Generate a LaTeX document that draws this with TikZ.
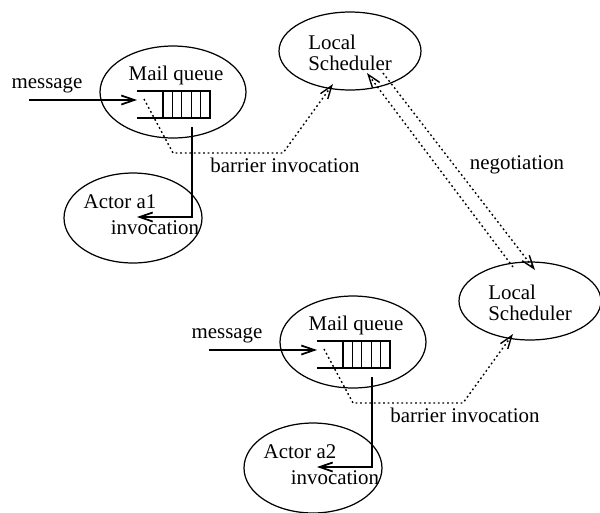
\documentclass[tikz,border=0pt]{standalone}
\usepackage{fontspec}
\setmainfont{Liberation Serif}
\usetikzlibrary{arrows.meta,shapes.geometric}

\begin{document}
\begin{tikzpicture}[
  x=0.02cm, y=-0.02cm,
  every node/.style={font=\fontsize{11.9}{12}\selectfont, inner sep=0pt},
  mailoval/.style={ellipse, draw, line width=0.7pt, minimum width=2.92cm, minimum height=1.84cm},
  actoroval/.style={ellipse, draw, line width=0.7pt, minimum width=2.76cm, minimum height=1.8cm},
  schedoval/.style={ellipse, draw, line width=0.7pt, minimum width=2.84cm, minimum height=1.56cm},
  tip/.style={-{Straight Barb[length=2.6mm, width=1.8mm]}},
  flow/.style={tip, line width=1pt},
  barrier/.style={tip, line width=0.8pt, dash pattern=on 1pt off 1.6pt},
  slot/.style={line width=0.7pt},
]
\useasboundingbox (0,0) rectangle (600,512);

% ================================================================
% Upper actor: mail queue, actor a1, local scheduler
% ================================================================
\begin{scope}
  \node[mailoval]  (mq1)    at (173,92)  {};
  \node[actoroval] (actor1) at (133,218) {};
  \node[schedoval] (sched1) at (350,51)  {};

  % --- Queue slots ---
  \draw[slot] (137,91) -- (210,91) -- (210,118) -- (137,118);
  \foreach \x in {163,172.4,181.8,191.2,200.6}
    \draw[slot] (\x,91) -- (\x,118);

  % --- Anchor points ---
  \coordinate (src1)    at (29,100);
  \coordinate (in1)     at (137,100);
  \coordinate (deq1)    at (192,127);
  \coordinate (call1)   at (137,217);
  \coordinate (bar1)    at (144,99);
  \coordinate (bartip1) at (333,84);

  % --- Connectors ---
  \draw[flow] (src1) -- (in1);
  \draw[flow] (deq1) |- (call1);
  \draw[barrier] (bar1) -- ++(29,54) -- ++(110,0) -- (bartip1);

  % --- Labels ---
  \node (msg1)    at (47,85)   {message};
  \node (mqtxt1)  at (176,75)  {Mail queue};
  \node (acttxt1) at (120,202) {Actor a1};
  \node (inv1)    at (155,228) {invocation};
  \node (bartxt1) at (285,165) {barrier invocation};
  \node[anchor=west, align=left] (schtxt1) at (308,53) {Local\\Scheduler};
\end{scope}

% ================================================================
% Lower actor: mail queue, actor a2, local scheduler
% ================================================================
\begin{scope}[shift={(180,250)}]
  \node[mailoval]  (mq2)    at (173,92)  {};
  \node[actoroval] (actor2) at (133,218) {};
  \node[schedoval] (sched2) at (350,51)  {};

  % --- Queue slots ---
  \draw[slot] (137,91) -- (210,91) -- (210,118) -- (137,118);
  \foreach \x in {163,172.4,181.8,191.2,200.6}
    \draw[slot] (\x,91) -- (\x,118);

  % --- Anchor points ---
  \coordinate (src2)    at (29,100);
  \coordinate (in2)     at (137,100);
  \coordinate (deq2)    at (192,127);
  \coordinate (call2)   at (137,217);
  \coordinate (bar2)    at (144,99);
  \coordinate (bartip2) at (333,84);

  % --- Connectors ---
  \draw[flow] (src2) -- (in2);
  \draw[flow] (deq2) |- (call2);
  \draw[barrier] (bar2) -- ++(29,54) -- ++(110,0) -- (bartip2);

  % --- Labels ---
  \node (msg2)    at (47,85)   {message};
  \node (mqtxt2)  at (176,75)  {Mail queue};
  \node (acttxt2) at (120,202) {Actor a2};
  \node (inv2)    at (155,228) {invocation};
  \node (bartxt2) at (285,165) {barrier invocation};
  \node[anchor=west, align=left] (schtxt2) at (308,53) {Local\\Scheduler};
\end{scope}

% ================================================================
% Negotiation between the two schedulers
% ================================================================
\coordinate (negup)   at (367,73);
\coordinate (negfrom) at (513,267);
\coordinate (negout)  at (383,73);
\coordinate (negdown) at (535,270);

\draw[barrier] (negfrom) -- (negup);
\draw[barrier] (negout) -- (negdown);
\node (negtxt) at (517,165) {negotiation};

\end{tikzpicture}
\end{document}
